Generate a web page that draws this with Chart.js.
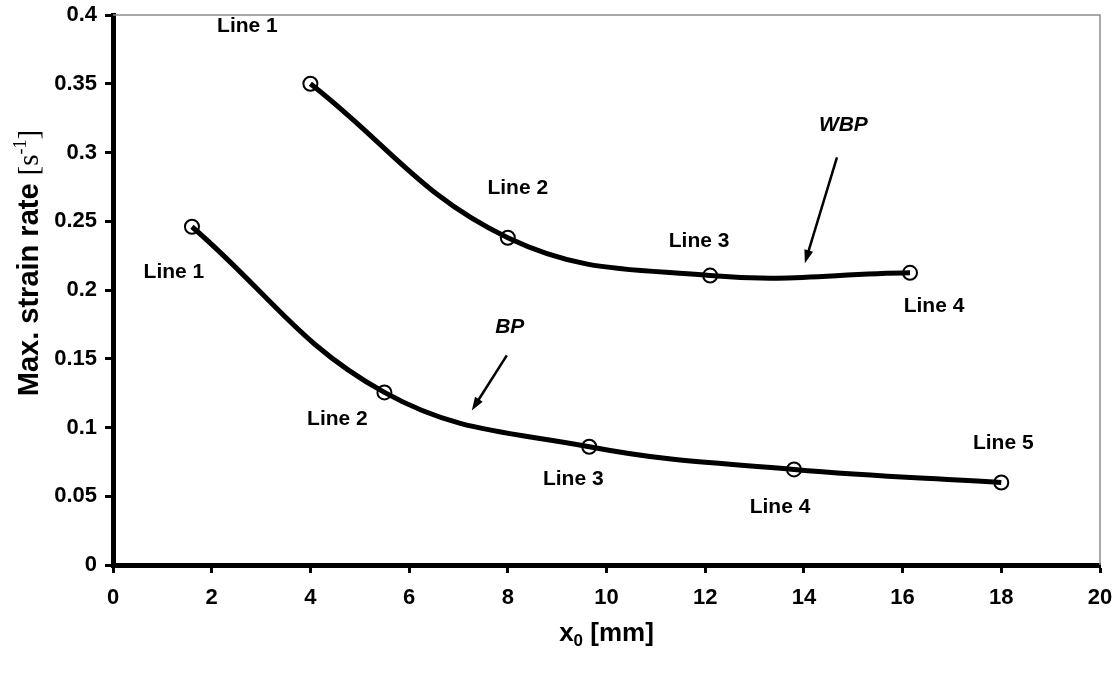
<!DOCTYPE html>
<html>
<head>
<meta charset="utf-8">
<script src="https://cdn.jsdelivr.net/npm/chart.js@4"></script>
<style>
  body { margin: 0; background: #fff; }
  canvas { display: block; }
</style>
</head>
<body>
<canvas id="strainChart" width="1118" height="675"></canvas>
<script>
// values
const wbpX = [4.0, 8.0, 12.1, 16.15];
const wbpY = [0.350, 0.238, 0.2105, 0.2125];
const wbpNames = ['Line 1', 'Line 2', 'Line 3', 'Line 4'];

const bpX = [1.6, 5.5, 9.65, 13.8, 18.0];
const bpY = [0.246, 0.1255, 0.086, 0.0695, 0.060];
const bpNames = ['Line 1', 'Line 2', 'Line 3', 'Line 4', 'Line 5'];

const xTicks = [0, 2, 4, 6, 8, 10, 12, 14, 16, 18, 20];
const yTicks = [0, 0.05, 0.1, 0.15, 0.2, 0.25, 0.3, 0.35, 0.4];

// label offsets from each point, in pixels
const wbpLabelOffsets = [[-63, -58], [10, -50], [-11, -34], [24, 33]];
const bpLabelOffsets = [[-18, 45], [-47, 27], [-16, 32], [-14, 38], [2, -39]];

// series captions with their arrows (data units)
const captions = [
  { text: 'WBP', at: [14.8, 0.3196], from: [14.67, 0.2964], to: [14.02, 0.2195] },
  { text: 'BP', at: [8.04, 0.1727], from: [7.98, 0.1524], to: [7.27, 0.1124] },
];

const toPoints = (xs, ys) => xs.map((x, i) => ({ x, y: ys[i] }));

const SANS = '"Liberation Sans", Arial, sans-serif';
const SERIF = '"Liberation Serif", "Times New Roman", serif';

const series = (label, xs, ys) => ({
  label,
  data: toPoints(xs, ys),
  borderColor: '#000',
  borderWidth: 5,
  tension: 0.4,
  pointRadius: 7,
  pointHoverRadius: 7,
  pointBorderWidth: 2,
  pointBorderColor: '#000',
  pointBackgroundColor: 'rgba(0,0,0,0)',
  fill: false,
});

const drawArrow = (ctx, x1, y1, x2, y2) => {
  const ang = Math.atan2(y2 - y1, x2 - x1);
  const head = 14;
  ctx.beginPath();
  ctx.moveTo(x1, y1);
  ctx.lineTo(x2 - Math.cos(ang) * head * 0.8, y2 - Math.sin(ang) * head * 0.8);
  ctx.lineWidth = 2.5;
  ctx.strokeStyle = '#000';
  ctx.stroke();
  ctx.beginPath();
  ctx.moveTo(x2, y2);
  ctx.lineTo(x2 - head * Math.cos(ang - 0.33), y2 - head * Math.sin(ang - 0.33));
  ctx.lineTo(x2 - head * Math.cos(ang + 0.33), y2 - head * Math.sin(ang + 0.33));
  ctx.closePath();
  ctx.fillStyle = '#000';
  ctx.fill();
};

const annotations = {
  id: 'annotations',
  beforeDatasetsDraw(chart) {
    const { ctx, chartArea: a } = chart;
    // thin grey frame on top and right
    ctx.save();
    ctx.strokeStyle = '#8c8c8c';
    ctx.lineWidth = 1.5;
    ctx.beginPath();
    ctx.moveTo(a.left, a.top);
    ctx.lineTo(a.right, a.top);
    ctx.lineTo(a.right, a.bottom);
    ctx.stroke();
    ctx.restore();
  },
  afterDatasetsDraw(chart) {
    const { ctx, scales: { x, y } } = chart;
    ctx.save();
    ctx.fillStyle = '#000';
    ctx.textAlign = 'center';
    ctx.textBaseline = 'middle';

    // point labels
    ctx.font = 'bold 21px ' + SANS;
    wbpX.forEach((v, i) => {
      const [dx, dy] = wbpLabelOffsets[i];
      ctx.fillText(wbpNames[i], x.getPixelForValue(v) + dx, y.getPixelForValue(wbpY[i]) + dy);
    });
    bpX.forEach((v, i) => {
      const [dx, dy] = bpLabelOffsets[i];
      ctx.fillText(bpNames[i], x.getPixelForValue(v) + dx, y.getPixelForValue(bpY[i]) + dy);
    });

    // captions and arrows
    ctx.font = 'italic bold 21px ' + SANS;
    captions.forEach(c => {
      ctx.fillText(c.text, x.getPixelForValue(c.at[0]), y.getPixelForValue(c.at[1]));
      drawArrow(ctx,
        x.getPixelForValue(c.from[0]), y.getPixelForValue(c.from[1]),
        x.getPixelForValue(c.to[0]), y.getPixelForValue(c.to[1]));
    });

    // x axis title: x0 [mm]
    ctx.textAlign = 'left';
    ctx.textBaseline = 'alphabetic';
    const xParts = [
      { t: 'x', f: 'bold 26px ' + SANS, dy: 0 },
      { t: '0', f: 'bold 17px ' + SANS, dy: 5 },
      { t: ' [mm]', f: 'bold 26px ' + SANS, dy: 0 },
    ];
    let w = 0;
    xParts.forEach(p => { ctx.font = p.f; w += ctx.measureText(p.t).width; });
    let cx = (x.left + x.right) / 2 - w / 2;
    xParts.forEach(p => {
      ctx.font = p.f;
      ctx.fillText(p.t, cx, 641 + p.dy);
      cx += ctx.measureText(p.t).width;
    });

    // y axis title: Max. strain rate [s-1]
    const yParts = [
      { t: 'Max. strain rate ', f: 'bold 29px ' + SANS, dy: 0 },
      { t: '[s', f: '29px ' + SERIF, dy: 0 },
      { t: '-1', f: '18px ' + SERIF, dy: -12 },
      { t: ']', f: '29px ' + SERIF, dy: 0 },
    ];
    w = 0;
    yParts.forEach(p => { ctx.font = p.f; w += ctx.measureText(p.t).width; });
    ctx.translate(38, 263);
    ctx.rotate(-Math.PI / 2);
    cx = -w / 2;
    yParts.forEach(p => {
      ctx.font = p.f;
      ctx.fillText(p.t, cx, p.dy);
      cx += ctx.measureText(p.t).width;
    });
    ctx.restore();
  },
};

new Chart(document.getElementById('strainChart'), {
  type: 'line',
  data: {
    datasets: [series('WBP', wbpX, wbpY), series('BP', bpX, bpY)],
  },
  options: {
    responsive: false,
    animation: false,
    devicePixelRatio: 1,
    layout: { padding: { top: 15, right: 18, bottom: 0, left: 0 } },
    plugins: { legend: { display: false }, tooltip: { enabled: false } },
    events: [],
    scales: {
      x: {
        type: 'linear',
        min: 0,
        max: 20,
        afterFit: s => {
          s.height = 110;
          s.paddingLeft = 0;
          s.paddingRight = 0;
        },
        afterBuildTicks: s => { s.ticks = xTicks.map(value => ({ value })); },
        border: { color: '#000', width: 5 },
        grid: { drawOnChartArea: false, tickLength: 8, tickColor: '#000', tickWidth: 3 },
        ticks: { color: '#000', padding: 12, font: { family: SANS, size: 22, weight: 'bold' } },
      },
      y: {
        min: 0,
        max: 0.4,
        afterFit: s => {
          s.width = 113;
          s.paddingTop = 0;
          s.paddingBottom = 0;
        },
        afterBuildTicks: s => { s.ticks = yTicks.map(value => ({ value })); },
        border: { color: '#000', width: 5 },
        grid: { drawOnChartArea: false, tickLength: 8, tickColor: '#000', tickWidth: 3 },
        ticks: {
          color: '#000',
          padding: 8,
          font: { family: SANS, size: 22, weight: 'bold' },
          callback: v => String(+v.toFixed(2)),
        },
      },
    },
  },
  plugins: [annotations],
});
</script>
</body>
</html>
